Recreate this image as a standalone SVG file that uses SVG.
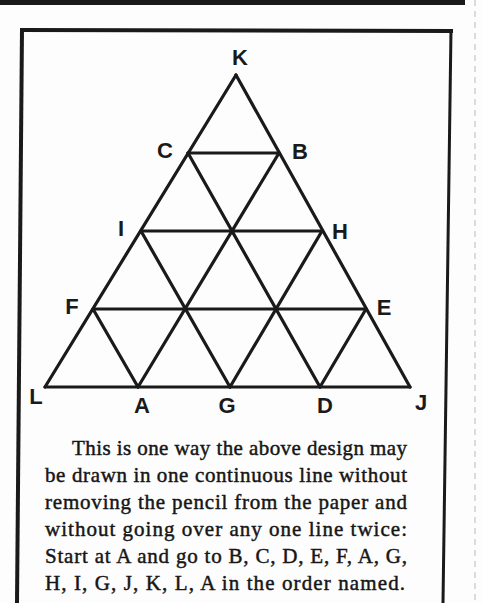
<svg xmlns="http://www.w3.org/2000/svg" width="482" height="603" viewBox="0 0 482 603">
<style>
.edge{stroke:#1a1a1a;stroke-width:3.2;stroke-linecap:round}
.frame{stroke:#1a1a1a;fill:none}
.lbl{font-family:"Liberation Sans","DejaVu Sans",sans-serif;font-weight:bold;font-size:22px;fill:#1a1a1a;text-anchor:middle;dominant-baseline:central}
.body{font-family:"Liberation Serif","DejaVu Serif",serif;font-size:21px;fill:#161616;stroke:#161616;stroke-width:0.45}
</style>
<rect x="0" y="0" width="482" height="603" fill="#fdfdfd"/>
<g id="frame">
<rect x="0" y="0" width="465" height="5" fill="#1a1a1a"/>
<line x1="475" y1="0" x2="475" y2="603" stroke="#cfcfcf" stroke-width="1.5" stroke-dasharray="6 5"/>
<line class="frame" x1="20" y1="30" x2="453" y2="31" stroke-width="4"/>
<line class="frame" x1="22" y1="29" x2="17" y2="603" stroke-width="4"/>
<line class="frame" x1="451" y1="29" x2="443" y2="603" stroke-width="3"/>
</g>
<g id="connectors">
<line class="edge" x1="236" y1="75" x2="45" y2="387"/>
<line class="edge" x1="236" y1="75" x2="410" y2="387"/>
<line class="edge" x1="45" y1="387" x2="410" y2="387"/>
<line class="edge" x1="188" y1="153" x2="279" y2="153"/>
<line class="edge" x1="141" y1="231" x2="322" y2="231"/>
<line class="edge" x1="93" y1="309" x2="366" y2="309"/>
<line class="edge" x1="188" y1="153" x2="320" y2="387"/>
<line class="edge" x1="141" y1="231" x2="230" y2="387"/>
<line class="edge" x1="93" y1="309" x2="138" y2="387"/>
<line class="edge" x1="279" y1="153" x2="138" y2="387"/>
<line class="edge" x1="322" y1="231" x2="230" y2="387"/>
<line class="edge" x1="366" y1="309" x2="320" y2="387"/>
</g>
<g id="K"><text class="lbl" x="240" y="57">K</text></g>
<g id="C"><text class="lbl" x="165" y="150">C</text></g>
<g id="B"><text class="lbl" x="300" y="151">B</text></g>
<g id="I"><text class="lbl" x="121" y="228">I</text></g>
<g id="H"><text class="lbl" x="340" y="231">H</text></g>
<g id="F"><text class="lbl" x="72" y="306">F</text></g>
<g id="E"><text class="lbl" x="384" y="307">E</text></g>
<g id="L"><text class="lbl" x="36" y="396">L</text></g>
<g id="A"><text class="lbl" x="142" y="405">A</text></g>
<g id="G"><text class="lbl" x="227" y="405">G</text></g>
<g id="D"><text class="lbl" x="325" y="405">D</text></g>
<g id="J"><text class="lbl" x="421" y="402">J</text></g>
<g id="caption">
<text class="body" x="72" y="455" textLength="335" lengthAdjust="spacing">This is one way the above design may</text>
<text class="body" x="45" y="482" textLength="362" lengthAdjust="spacing">be drawn in one continuous line without</text>
<text class="body" x="45" y="509" textLength="362" lengthAdjust="spacing">removing the pencil from the paper and</text>
<text class="body" x="45" y="536" textLength="362" lengthAdjust="spacing">without going over any one line twice:</text>
<text class="body" x="45" y="563" textLength="362" lengthAdjust="spacing">Start at A and go to B, C, D, E, F, A, G,</text>
<text class="body" x="45" y="590" textLength="360" lengthAdjust="spacing">H, I, G, J, K, L, A in the order named.</text>
</g>
</svg>
